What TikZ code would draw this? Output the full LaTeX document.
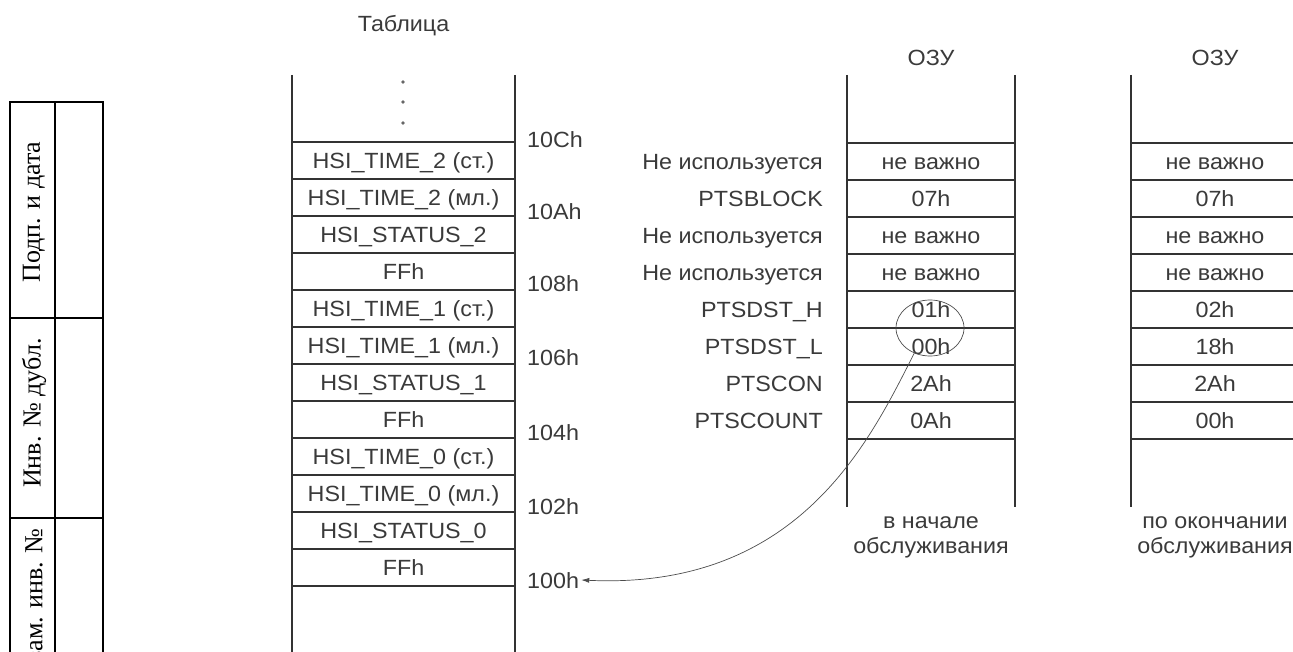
\documentclass[tikz,border=0pt]{standalone}
\usepackage{fontspec}
\setmainfont{Liberation Sans}[FakeStretch=1.06]
\newfontfamily\stampfont{Liberation Serif}
\usetikzlibrary{arrows.meta,shapes.geometric}
\definecolor{ink}{HTML}{333333}
\definecolor{txt}{HTML}{3A3A3A}
\begin{document}
\begin{tikzpicture}[x=1pt,y=-1pt,
  every node/.style={inner sep=0pt, text=txt},
  lab/.style={font=\fontsize{22}{25}\selectfont, text height=16pt, text depth=0pt},
  captext/.style={font=\fontsize{22}{25}\selectfont, align=center},
  mline/.style={draw=ink, line width=1.8pt},
  stamp/.style={font=\stampfont\fontsize{26}{30}\selectfont, rotate=90, text=black},
  sline/.style={draw=black, line width=1.5pt},
  pointer/.style={draw=gray!60!black, line width=0.7pt, -{Latex[length=8pt,width=5pt]}},
  marker/.style={draw=gray!60!black, line width=0.7pt, ellipse, minimum width=68pt, minimum height=56pt},
  dotmark/.style={fill=gray!80!black}
]
\useasboundingbox (0,0) rectangle (1293,652);

% ---- stamp on the left margin
\draw[sline] (10,660) -- (10,102) -- (103,102) -- (103,660);
\draw[sline] (55,102) -- (55,660);
\draw[sline] (10,318) -- (103,318);
\draw[sline] (10,518) -- (103,518);
\node[stamp] (s1) at (34,212) {Подп. и дата};
\node[stamp, anchor=west] (s2) at (34,488) {Инв. № дубл.};
\node[stamp, anchor=east] (s3) at (34,528) {Взам. инв. №};

% ---- table
\node[lab] (title) at (403.5,24) {Таблица};
\draw[mline] (292,75) -- (292,660);
\draw[mline] (515,75) -- (515,660);
\foreach \k in {0,...,12} \draw[mline] (292,142+37*\k) -- (515,142+37*\k);
\fill[dotmark] (403,82) circle[radius=1.8pt];
\fill[dotmark] (403,102) circle[radius=1.8pt];
\fill[dotmark] (403,123) circle[radius=1.8pt];
\foreach \t [count=\i] in {{HSI\_TIME\_2 (ст.)},{HSI\_TIME\_2 (мл.)},{HSI\_STATUS\_2},{FFh},
  {HSI\_TIME\_1 (ст.)},{HSI\_TIME\_1 (мл.)},{HSI\_STATUS\_1},{FFh},
  {HSI\_TIME\_0 (ст.)},{HSI\_TIME\_0 (мл.)},{HSI\_STATUS\_0},{FFh}}
  \node[lab] (t\i) at (403.5,160.5+37*\i-37) {\t};

\node[lab, anchor=west] (a10C) at (527,140) {10Ch};
\node[lab, anchor=west] (a10A) at (527,212) {10Ah};
\node[lab, anchor=west] (a108) at (527,283) {108h};
\node[lab, anchor=west] (a106) at (527,357) {106h};
\node[lab, anchor=west] (a104) at (527,432) {104h};
\node[lab, anchor=west] (a102) at (527,506) {102h};
\node[lab, anchor=west, inner xsep=2pt] (a100) at (525,580) {100h};

% ---- RAM at start
\node[lab] (ram1) at (931,58) {ОЗУ};
\draw[mline] (847,75) -- (847,507);
\draw[mline] (1015,75) -- (1015,507);
\foreach \k in {0,...,8} \draw[mline] (847,143+37*\k) -- (1015,143+37*\k);
\foreach \t [count=\i] in {{Не используется},{PTSBLOCK},{Не используется},{Не используется},
  {PTSDST\_H},{PTSDST\_L},{PTSCON},{PTSCOUNT}}
  \node[lab, anchor=east] (r\i) at (823,161.5+37*\i-37) {\t};
\foreach \t [count=\i] in {{не важно},{07h},{не важно},{не важно},{01h},{00h},{2Ah},{0Ah}}
  \node[lab] (b\i) at (931,161.5+37*\i-37) {\t};
\node[captext] (capb) at (931,537) {в начале\\обслуживания};

% ---- RAM at end
\node[lab] (ram2) at (1215,58) {ОЗУ};
\draw[mline] (1131,75) -- (1131,507);
\foreach \k in {0,...,8} \draw[mline] (1131,143+37*\k) -- (1300,143+37*\k);
\foreach \t [count=\i] in {{не важно},{07h},{не важно},{не важно},{02h},{18h},{2Ah},{00h}}
  \node[lab] (e\i) at (1215,161.5+37*\i-37) {\t};
\node[captext] (cape) at (1215,537) {по окончании\\обслуживания};

% ---- pointer
\node[marker] (circ) at (930,328) {};
\draw[pointer] (circ.238) .. controls (870,440) and (800,590) .. (a100.east);
\end{tikzpicture}
\end{document}
